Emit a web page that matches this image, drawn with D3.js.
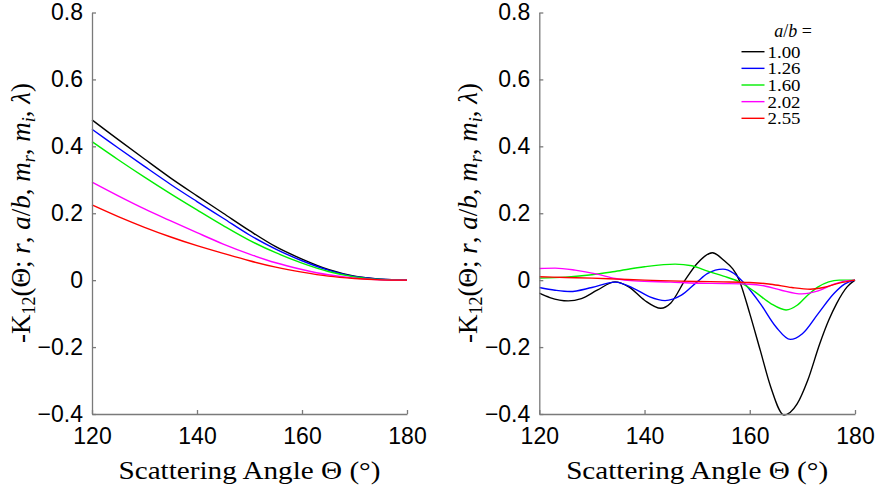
<!DOCTYPE html>
<html>
<head>
<meta charset="utf-8">
<script src="https://cdn.jsdelivr.net/npm/d3@7"></script>
<style>
  body { margin: 0; background: #fff; }
  .tick text { font-family: "Liberation Sans", Arial, sans-serif; font-size: 23px; fill: #000; }
  .axis path, .axis line { stroke: #7a7a7a; stroke-width: 1.3; }
  .label { font-family: "Liberation Serif", "DejaVu Serif", serif; fill: #000; }
</style>
</head>
<body>
<svg width="879" height="491"></svg>
<script>
// legend / series
const ratios = ['1.00', '1.26', '1.60', '2.02', '2.55'];
const colors = ['#000000', '#0000ff', '#00ee00', '#ff00ff', '#ff0000'];

// x ticks / y ticks
const xTicks = [120, 140, 160, 180];
const yTicks = [-0.4, -0.2, 0, 0.2, 0.4, 0.6, 0.8];
const yTickLabels = ['\u22120.4', '\u22120.2', '0', '0.2', '0.4', '0.6', '0.8'];

// left panel, all series on the same angle grid
const leftTheta = [120, 125, 130, 135, 140, 145, 150, 155, 160, 165, 170, 175, 180];
const left100 = [0.479, 0.420, 0.362, 0.305, 0.252, 0.200, 0.148, 0.100, 0.063, 0.032, 0.012, 0.003, 0];
const left126 = [0.451, 0.395, 0.340, 0.286, 0.235, 0.185, 0.135, 0.093, 0.058, 0.030, 0.011, 0.003, 0];
const left160 = [0.414, 0.360, 0.308, 0.258, 0.210, 0.163, 0.119, 0.082, 0.051, 0.026, 0.010, 0.002, 0];
const left202 = [0.293, 0.252, 0.213, 0.177, 0.142, 0.108, 0.078, 0.052, 0.032, 0.016, 0.006, 0.001, 0];
const left255 = [0.225, 0.190, 0.158, 0.129, 0.103, 0.080, 0.058, 0.039, 0.024, 0.012, 0.005, 0.001, 0];

// right panel, each series read at its own angles
const right100T = [120, 122, 125.5, 128, 131, 134.4, 137, 140, 143.1, 145, 147.7, 150, 152.9, 155, 158, 160, 162, 164, 166.5, 169, 171, 173.3, 175, 176.5, 178.5, 180];
const right100V = [-0.039, -0.052, -0.062, -0.055, -0.030, -0.005, -0.020, -0.060, -0.084, -0.068, 0.000, 0.050, 0.082, 0.060, 0.000, -0.100, -0.210, -0.320, -0.403, -0.370, -0.300, -0.190, -0.120, -0.070, -0.020, 0];
const right126T = [120, 123, 125.8, 130, 134.4, 138, 141, 143.9, 147, 150, 152, 154.9, 157, 159, 162, 165, 167.7, 170, 173, 176, 178, 180];
const right126V = [-0.022, -0.030, -0.034, -0.022, -0.006, -0.025, -0.050, -0.061, -0.045, -0.005, 0.020, 0.033, 0.020, -0.010, -0.070, -0.140, -0.177, -0.160, -0.100, -0.040, -0.012, 0];
const right160T = [120, 125, 130, 134.4, 140, 145.8, 149, 152, 155, 158, 161, 164, 166.9, 169, 171, 173, 175, 177, 180];
const right160V = [0.006, 0.009, 0.016, 0.026, 0.040, 0.048, 0.043, 0.027, 0.012, -0.005, -0.035, -0.070, -0.089, -0.075, -0.045, -0.020, -0.005, 0.000, 0];
const right202T = [120, 123, 126.8, 131, 134.4, 138, 145, 150, 155, 160, 163, 166, 169.9, 173, 176, 178, 180];
const right202V = [0.035, 0.036, 0.030, 0.018, 0.005, -0.002, -0.006, -0.009, -0.010, -0.012, -0.018, -0.030, -0.041, -0.032, -0.012, -0.003, 0];
const right255T = [120, 125, 130, 135, 140, 145, 150, 155, 160, 164, 168, 171.5, 174, 177, 180];
const right255V = [0.010, 0.008, 0.006, 0.003, 0.000, -0.002, -0.004, -0.005, -0.007, -0.012, -0.022, -0.027, -0.022, -0.009, 0];

const leftSeries = [left100, left126, left160, left202, left255].map(v => leftTheta.map((t, i) => [t, v[i]]));
const rightSeries = [
  [right100T, right100V], [right126T, right126V], [right160T, right160V],
  [right202T, right202V], [right255T, right255V]
].map(([ts, vs]) => ts.map((t, i) => [t, vs[i]]));

const svg = d3.select('svg');

const y = d3.scaleLinear().domain([-0.4, 0.8]).range([414, 12.5]);

function drawPanel(x0, x1, series, curve, withLegend) {
  const x = d3.scaleLinear().domain([120, 180]).range([x0, x1]);
  const g = svg.append('g');

  const line = d3.line()
    .x(d => x(d[0]))
    .y(d => y(d[1]))
    .curve(curve);

  g.selectAll('path.series')
    .data(series)
    .enter()
    .append('path')
    .attr('class', 'series')
    .attr('d', line)
    .attr('fill', 'none')
    .attr('stroke', (d, i) => colors[i])
    .attr('stroke-width', 1.4);

  g.append('g')
    .attr('class', 'axis')
    .attr('transform', `translate(0, ${y(-0.4)})`)
    .call(d3.axisBottom(x).tickValues(xTicks).tickSizeInner(-4).tickSizeOuter(0).tickPadding(14).tickFormat(d3.format('d')));

  g.append('g')
    .attr('class', 'axis')
    .attr('transform', `translate(${x0}, 0)`)
    .call(d3.axisLeft(y).tickValues(yTicks).tickSizeInner(-4).tickSizeOuter(0).tickPadding(9)
      .tickFormat((d, i) => yTickLabels[i]));

  // x label
  g.append('text')
    .attr('class', 'label')
    .attr('x', (x0 + x1) / 2)
    .attr('y', 479)
    .attr('text-anchor', 'middle')
    .attr('font-size', 25)
    .attr('textLength', 262)
    .attr('lengthAdjust', 'spacingAndGlyphs')
    .text('Scattering Angle \u0398 (\u00b0)');

  // y label
  const yl = g.append('text')
    .attr('class', 'label')
    .attr('transform', `translate(${x0 - 62}, 213) rotate(-90)`)
    .attr('text-anchor', 'middle')
    .attr('font-size', 27);
  yl.append('tspan').text('-K');
  yl.append('tspan').attr('font-size', 18).attr('dy', 5).text('12');
  yl.append('tspan').attr('dy', -5).text('(\u0398; ');
  yl.append('tspan').attr('font-style', 'italic').text('r');
  yl.append('tspan').text(', ');
  yl.append('tspan').attr('font-style', 'italic').text('a');
  yl.append('tspan').text('/');
  yl.append('tspan').attr('font-style', 'italic').text('b');
  yl.append('tspan').text(', ');
  yl.append('tspan').attr('font-style', 'italic').text('m');
  yl.append('tspan').attr('font-style', 'italic').attr('font-size', 18).attr('dy', 5).text('r');
  yl.append('tspan').attr('dy', -5).text(', ');
  yl.append('tspan').attr('font-style', 'italic').text('m');
  yl.append('tspan').attr('font-style', 'italic').attr('font-size', 18).attr('dy', 5).text('i');
  yl.append('tspan').attr('dy', -5).text(', ');
  yl.append('tspan').attr('font-style', 'italic').text('\u03bb');
  yl.append('tspan').text(')');

  if (withLegend) {
    const lg = g.append('g');
    const title = lg.append('text')
      .attr('class', 'label')
      .attr('x', 793)
      .attr('y', 37)
      .attr('text-anchor', 'middle')
      .attr('font-size', 18);
    title.append('tspan').attr('font-style', 'italic').text('a');
    title.append('tspan').text('/');
    title.append('tspan').attr('font-style', 'italic').text('b');
    title.append('tspan').text(' =');

    const rows = lg.selectAll('g.row')
      .data(ratios)
      .enter()
      .append('g')
      .attr('class', 'row')
      .attr('transform', (d, i) => `translate(0, ${51.7 + i * 16.65})`);
    rows.append('line')
      .attr('x1', 741.5).attr('x2', 764.5)
      .attr('y1', 0).attr('y2', 0)
      .attr('stroke', (d, i) => colors[i])
      .attr('stroke-width', 1.4);
    rows.append('text')
      .attr('class', 'label')
      .attr('x', 767.5)
      .attr('y', 6)
      .attr('font-size', 17)
      .attr('textLength', 33)
      .attr('lengthAdjust', 'spacingAndGlyphs')
      .text(d => d);
  }
}

drawPanel(92, 407, leftSeries, d3.curveCatmullRom.alpha(0.5), false);
drawPanel(539.3, 855, rightSeries, d3.curveMonotoneX, true);
</script>
</body>
</html>
